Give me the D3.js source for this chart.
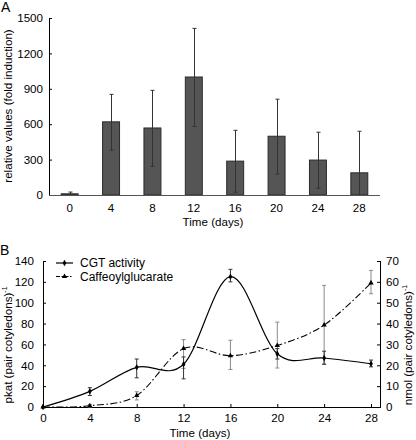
<!DOCTYPE html>
<html><head><meta charset="utf-8">
<script src="https://cdn.jsdelivr.net/npm/d3@7"></script>
<style>
html,body{margin:0;padding:0;background:#fff;}
svg{display:block;font-family:"Liberation Sans",Arial,sans-serif;}
</style></head>
<body>
<svg id="c" width="416" height="440"></svg>
<script>
// ---------- Panel A data ----------
const daysA = ["0","4","8","12","16","20","24","28"];
const foldInduction = [10, 620, 568, 1000, 287, 498, 296, 188];
const foldErrLow  = [0, 380, 243, 580, 23, 178, 57, 0];
const foldErrHigh = [25, 853, 887, 1412, 548, 812, 532, 540];
const yTicksA = [0, 300, 600, 900, 1200, 1500];

// ---------- Panel B data ----------
const daysB = [0, 4, 8, 12, 16, 20, 24, 28];
const cgtActivity = [0, 15, 38, 41, 125, 51, 47, 41.5];
const cgtErrLow   = [0, 11, 28, 27, 120, 46, 41, 38.5];
const cgtErrHigh  = [0, 18.5, 46, 48, 132, 56, 53.5, 45];
const caffeoyl        = [0, 0.6, 5.5, 28, 24.6, 29.5, 39.3, 59.5];
const caffeoylErrLow  = [0, 0, 3.4, 18.5, 18, 18.7, 20.5, 54.3];
const caffeoylErrHigh = [0, 1.2, 7.3, 32.3, 32, 40.7, 58.3, 65.5];
const yTicksBLeft  = [0, 20, 40, 60, 80, 100, 120, 140];
const yTicksBRight = [0, 10, 20, 30, 40, 50, 60, 70];
const xTicksB = [0, 4, 8, 12, 16, 20, 24, 28];

const svg = d3.select("#c");
const FS = 11.6;

// ================= Panel A =================
const A = {left: 49, right: 380, top: 18, bottom: 195};
const xA = d3.scaleBand().domain(daysA).range([A.left, A.right]).padding(0);
const yA = d3.scaleLinear().domain([0, 1500]).range([A.bottom, A.top]);
const barW = xA.bandwidth() * 0.41;

const gA = svg.append("g");
svg.append("text").attr("x", 1).attr("y", 12).attr("font-size", 14).text("A");

gA.selectAll("rect.bar").data(daysA).join("rect")
  .attr("x", d => xA(d) + xA.bandwidth()/2 - barW/2)
  .attr("y", (d,i) => yA(foldInduction[i]))
  .attr("width", barW)
  .attr("height", (d,i) => yA(0) - yA(foldInduction[i]))
  .attr("fill", "#555").attr("stroke", "#2a2a2a").attr("stroke-width", 1);

const errA = gA.append("g").attr("stroke", "#333").attr("stroke-width", 1);
daysA.forEach((d,i) => {
  const cx = Math.round(xA(d) + xA.bandwidth()/2) + 0.5;
  errA.append("line").attr("x1", cx).attr("x2", cx).attr("y1", yA(foldErrLow[i])).attr("y2", yA(foldErrHigh[i]));
  errA.append("line").attr("x1", cx-2).attr("x2", cx+2).attr("y1", yA(foldErrHigh[i])).attr("y2", yA(foldErrHigh[i]));
  if (foldErrLow[i] > 0)
    errA.append("line").attr("x1", cx-2).attr("x2", cx+2).attr("y1", yA(foldErrLow[i])).attr("y2", yA(foldErrLow[i]));
});

const axYA = gA.append("g").attr("transform", `translate(${A.left},0)`)
  .call(d3.axisLeft(yA).tickValues(yTicksA).tickFormat(d3.format("d")).tickSizeInner(-3).tickSizeOuter(0).tickPadding(6));
axYA.select(".domain").remove();
axYA.selectAll("text").attr("font-size", FS).attr("fill", "#000").attr("font-family", null);
axYA.selectAll("line").attr("stroke", "#000");
gA.append("line").attr("x1", A.left+0.5).attr("x2", A.left+0.5).attr("y1", A.top).attr("y2", A.bottom).attr("stroke", "#000");

const axXA = gA.append("g").attr("transform", `translate(0,${A.bottom})`)
  .call(d3.axisBottom(xA).tickSize(0).tickPadding(9));
axXA.select(".domain").remove();
axXA.selectAll("text").attr("font-size", FS).attr("fill", "#000").attr("font-family", null);
gA.append("line").attr("x1", A.left).attr("x2", A.right).attr("y1", A.bottom+0.5).attr("y2", A.bottom+0.5).attr("stroke", "#555").attr("stroke-width", 1.2);

gA.append("text").attr("x", 213).attr("y", 226).attr("text-anchor", "middle").attr("font-size", FS).text("Time (days)");
gA.append("text").attr("transform", "translate(12,106) rotate(-90)").attr("text-anchor", "middle").attr("font-size", FS)
  .text("relative values (fold induction)");

// ================= Panel B =================
const B = {left: 43, right: 380, top: 261, bottom: 407};
const xB = d3.scaleLinear().domain([0, 28]).range([43, 371]);
const yBL = d3.scaleLinear().domain([0, 140]).range([B.bottom, B.top]);
const yBR = d3.scaleLinear().domain([0, 70]).range([B.bottom, B.top]);
const gB = svg.append("g");
svg.append("text").attr("x", 0).attr("y", 255).attr("font-size", 14).text("B");

const axL = gB.append("g").attr("transform", `translate(${B.left},0)`)
  .call(d3.axisLeft(yBL).tickValues(yTicksBLeft).tickSizeInner(-3).tickSizeOuter(0).tickPadding(9));
const axR = gB.append("g").attr("transform", `translate(${B.right},0)`)
  .call(d3.axisRight(yBR).tickValues(yTicksBRight).tickSizeInner(-3).tickSizeOuter(0).tickPadding(6));
const axB = gB.append("g").attr("transform", `translate(0,${B.bottom})`)
  .call(d3.axisBottom(xB).tickValues(xTicksB).tickSizeInner(-3).tickSizeOuter(0).tickPadding(7));
[axL, axR, axB].forEach(ax => {
  ax.select(".domain").remove();
  ax.selectAll("text").attr("font-size", FS).attr("fill", "#000").attr("font-family", null);
  ax.selectAll("line").attr("stroke", "#000");
});
gB.append("line").attr("x1", B.left+0.5).attr("x2", B.left+0.5).attr("y1", B.top).attr("y2", B.bottom).attr("stroke", "#000");
gB.append("line").attr("x1", B.right+0.5).attr("x2", B.right+0.5).attr("y1", B.top).attr("y2", B.bottom).attr("stroke", "#000");
gB.append("line").attr("x1", B.left).attr("x2", B.right+1).attr("y1", B.bottom+0.5).attr("y2", B.bottom+0.5).attr("stroke", "#000");

function errBars(g, lo, hi, yS, color) {
  daysB.forEach((d,i) => {
    if (hi[i] - lo[i] <= 0) return;
    const cx = xB(d);
    g.append("line").attr("x1", cx).attr("x2", cx).attr("y1", yS(lo[i])).attr("y2", yS(hi[i])).attr("stroke", color);
    [lo[i], hi[i]].forEach(v => g.append("line").attr("x1", cx-2).attr("x2", cx+2).attr("y1", yS(v)).attr("y2", yS(v)).attr("stroke", color));
  });
}
errBars(gB, caffeoylErrLow, caffeoylErrHigh, yBR, "#8a8a8a");
errBars(gB, cgtErrLow, cgtErrHigh, yBL, "#333");

const curve = d3.curveCardinal.tension(0);
const lineCGT = d3.line().x((d,i) => xB(daysB[i])).y(d => yBL(d)).curve(curve);
const lineCaf = d3.line().x((d,i) => xB(daysB[i])).y(d => yBR(d)).curve(curve);

gB.append("path").attr("d", lineCaf(caffeoyl)).attr("fill", "none").attr("stroke", "#000")
  .attr("stroke-width", 1.1).attr("stroke-dasharray", "7,2.5,1.5,2.5");
gB.append("path").attr("d", lineCGT(cgtActivity)).attr("fill", "none").attr("stroke", "#000").attr("stroke-width", 1.2);

const tri = d3.symbol().type(d3.symbolTriangle).size(12);
const dia = d3.symbol().type(d3.symbolDiamond).size(12);
gB.selectAll("path.caf").data(caffeoyl).join("path").attr("class", "caf")
  .attr("d", tri).attr("transform", (d,i) => `translate(${xB(daysB[i])},${yBR(d)})`).attr("fill", "#000");
gB.selectAll("path.cgt").data(cgtActivity).join("path").attr("class", "cgt")
  .attr("d", dia).attr("transform", (d,i) => `translate(${xB(daysB[i])},${yBL(d)})`).attr("fill", "#000");

const leg = gB.append("g");
leg.append("line").attr("x1", 56).attr("x2", 73).attr("y1", 263).attr("y2", 263).attr("stroke", "#000").attr("stroke-width", 1.2);
leg.append("path").attr("d", dia).attr("transform", "translate(64.5,263)");
leg.append("text").attr("x", 80).attr("y", 267).attr("font-size", 12).text("CGT activity");
leg.append("line").attr("x1", 56).attr("x2", 73).attr("y1", 276.5).attr("y2", 276.5).attr("stroke", "#000").attr("stroke-width", 1.1).attr("stroke-dasharray", "4,1.5,1.5,1.5");
leg.append("path").attr("d", tri).attr("transform", "translate(64.5,276.5)");
leg.append("text").attr("x", 80).attr("y", 281).attr("font-size", 12).text("Caffeoylglucarate");

gB.append("text").attr("x", 200).attr("y", 437).attr("text-anchor", "middle").attr("font-size", FS).text("Time (days)");
const tL = gB.append("text").attr("transform", "translate(12,345) rotate(-90)").attr("text-anchor", "middle").attr("font-size", FS);
tL.append("tspan").text("pkat (pair cotyledons)");
tL.append("tspan").attr("font-size", 7).attr("dy", -5).text("-1");
const tR = gB.append("text").attr("transform", "translate(412,345) rotate(-90)").attr("text-anchor", "middle").attr("font-size", FS);
tR.append("tspan").text("nmol (pair cotyledons)");
tR.append("tspan").attr("font-size", 7).attr("dy", -5).text("-1");
</script>
</body></html>
